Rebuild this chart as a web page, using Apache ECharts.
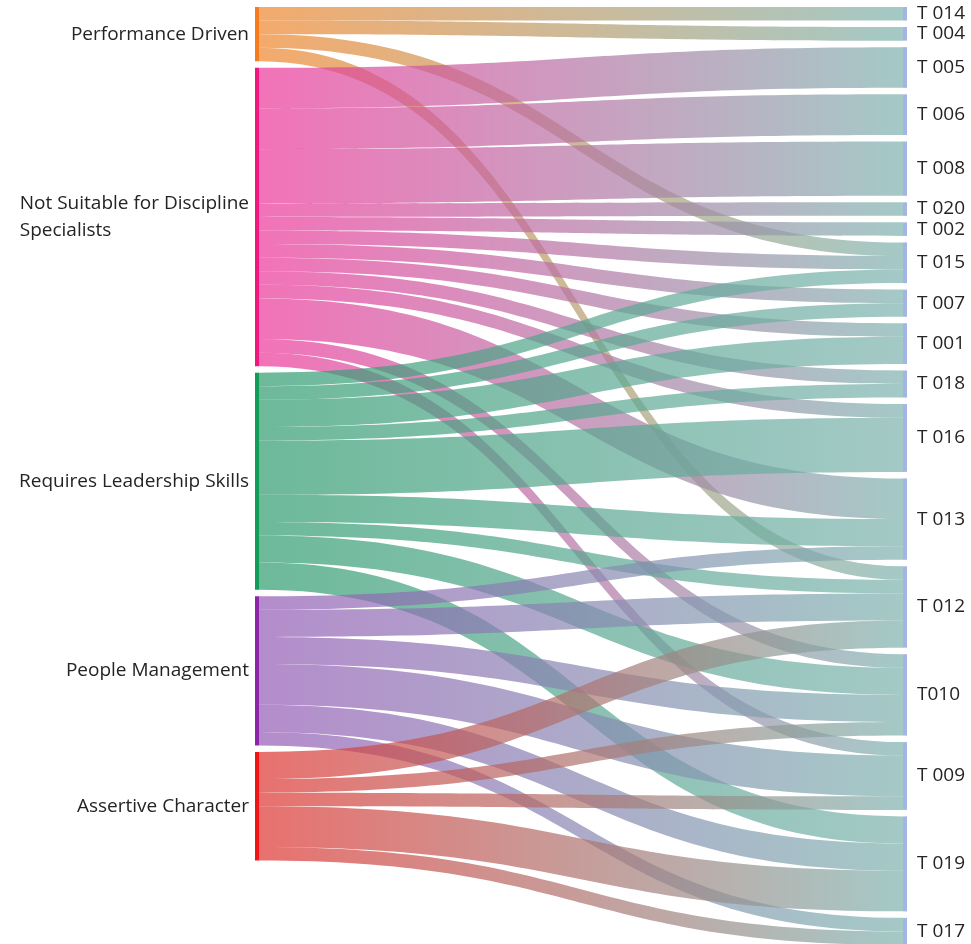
<!DOCTYPE html>
<html>
<head>
<meta charset="utf-8">
<script src="https://cdn.jsdelivr.net/npm/echarts@6/dist/echarts.min.js"></script>
<style>
html,body{margin:0;padding:0;background:#ffffff;}
#chart{width:971px;height:944px;}
</style>
</head>
<body>
<div id="chart"></div>
<script>
// ---- data ----
const sourceNames = [
  'Performance Driven',
  'Not Suitable for Discipline Specialists',
  'Requires Leadership Skills',
  'People Management',
  'Assertive Character'
];
const targetNames = [
  'T 014','T 004','T 005','T 006','T 008','T 020','T 002','T 015','T 007',
  'T 001','T 018','T 016','T 013','T 012','T010','T 009','T 019','T 017'
];
// values per source, aligned with targetNames
const performanceDriven = [1,1,0,0,0,0,0,1,0,0,0,0,0,1,0,0,0,0];
const notSuitable       = [0,0,3,3,4,1,1,1,1,1,1,1,3,0,1,1,0,0];
const leadership        = [0,0,0,0,0,0,0,1,1,2,1,4,2,1,2,0,2,0];
const peopleManagement  = [0,0,0,0,0,0,0,0,0,0,0,0,1,2,2,3,2,1];
const assertive         = [0,0,0,0,0,0,0,0,0,0,0,0,0,2,1,1,3,1];
const sourceValues = [performanceDriven, notSuitable, leadership, peopleManagement, assertive];

// ---- styles ----
const sourceNodeColors = ['#f87b1c','#f0187f','#0f9d58','#8e24aa','#f01414'];
const sourceLinkColors = ['#ef862d','#ec369a','#2e9b6f','#945bb5','#de3430'];
const targetNodeColor = '#a3b5e3';
const targetLinkColor = '#7db2ae';
const FONT = 'Open Sans';
const TEXT = '#252423';

const nodes = [];
sourceNames.forEach((n, i) => {
  nodes.push({
    name: n,
    itemStyle: { color: sourceNodeColors[i] },
    label: {
      position: 'left',
      distance: 6,
      formatter: p => '{a|' + p.name.replace('Discipline ', 'Discipline\n') + '}',
      rich: { a: { align: 'left', fontFamily: FONT, fontSize: 19, lineHeight: 27, color: TEXT } }
    }
  });
});
targetNames.forEach(n => {
  nodes.push({
    name: n,
    itemStyle: { color: targetNodeColor },
    label: { position: 'right', distance: 10 }
  });
});

const links = [];
sourceValues.forEach((vals, si) => {
  vals.forEach((v, ti) => {
    if (v > 0) {
      links.push({
        source: sourceNames[si],
        target: targetNames[ti],
        value: v,
        lineStyle: {
          color: {
            type: 'linear', x: 0, y: 0, x2: 1, y2: 0,
            colorStops: [
              { offset: 0, color: sourceLinkColors[si] },
              { offset: 1, color: targetLinkColor }
            ]
          }
        }
      });
    }
  });
});

const chart = echarts.init(document.getElementById('chart'), null, { renderer: 'canvas' });
chart.setOption({
  animation: false,
  backgroundColor: '#ffffff',
  series: [{
    type: 'sankey',
    left: 255,
    right: 64,
    top: 7,
    height: 938,
    nodeWidth: 4,
    nodeGap: 6.5,
    layoutIterations: 0,
    draggable: false,
    emphasis: { disabled: true },
    itemStyle: { borderWidth: 0 },
    label: { fontFamily: FONT, fontSize: 19, color: TEXT },
    lineStyle: { opacity: 0.7, curveness: 0.5 },
    data: nodes,
    links: links
  }]
});
</script>
</body>
</html>
